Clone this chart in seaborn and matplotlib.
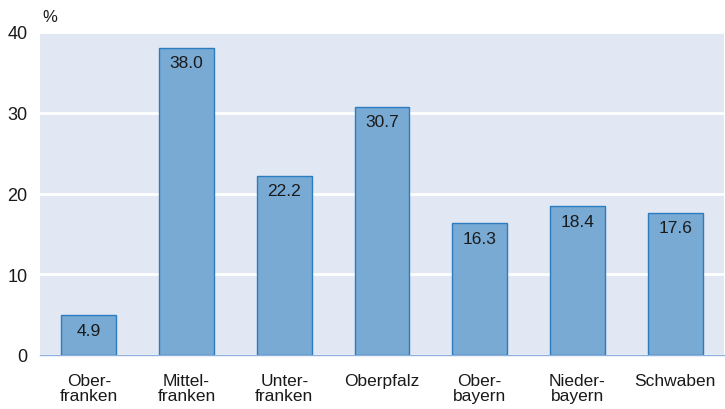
import matplotlib

matplotlib.use("Agg")
import matplotlib.pyplot as plt
import numpy as np
import pandas as pd
import seaborn as sns

regions = ["Ober-\nfranken", "Mittel-\nfranken", "Unter-\nfranken", "Oberpfalz",
           "Ober-\nbayern", "Nieder-\nbayern", "Schwaben"]
shares = [4.9, 38.0, 22.2, 30.7, 16.3, 18.4, 17.6]
y_ticks = [0, 10, 20, 30, 40]

sns.set_theme(style="white")
plt.rcParams["font.family"] = ["Liberation Sans", "DejaVu Sans"]

df = pd.DataFrame({"region": regions, "share": shares})

fig = plt.figure(figsize=(7.25, 4.10), dpi=100)
ax = fig.add_axes([40 / 725, 1 - 356 / 410, 684 / 725, 323 / 410])
ax.set_facecolor("#e1e8f3")

sns.barplot(data=df, x="region", y="share", color="#78aad4", width=0.56,
            edgecolor="#2b7cc0", linewidth=1.0, saturation=1, ax=ax, zorder=3)

for i, v in enumerate(shares):
    ax.text(i, v - 0.9, f"{v:.1f}", ha="center", va="top", fontsize=12.5, color="#1a1a1a", zorder=4)

ax.set_ylim(0, 40)
ax.set_xlim(-0.5, len(regions) - 0.5)
ax.set_yticks(y_ticks)
ax.yaxis.grid(True, color="white", linewidth=2, zorder=1)
ax.set_axisbelow(True)
ax.tick_params(axis="y", length=0, labelsize=13, pad=9, colors="#1a1a1a")
ax.tick_params(axis="x", which="major", length=0, labelsize=12.5, pad=13, colors="#1a1a1a")
for lbl in ax.get_xticklabels():
    lbl.set_linespacing(1.0)
ax.set_xticks(np.arange(-0.5, len(regions)), minor=True)
ax.tick_params(axis="x", which="minor", length=5, color="#8fb0dc", width=1)
for s in ["top", "right", "left"]:
    ax.spines[s].set_visible(False)
ax.spines["bottom"].set_color("#8fb0dc")
ax.spines["bottom"].set_linewidth(1)
ax.set_xlabel("")
ax.set_ylabel("")
fig.text(42 / 725, 1 - 18 / 410, "%", fontsize=12, ha="left", va="center", color="#1a1a1a")

fig.savefig("out.png", dpi=100)
